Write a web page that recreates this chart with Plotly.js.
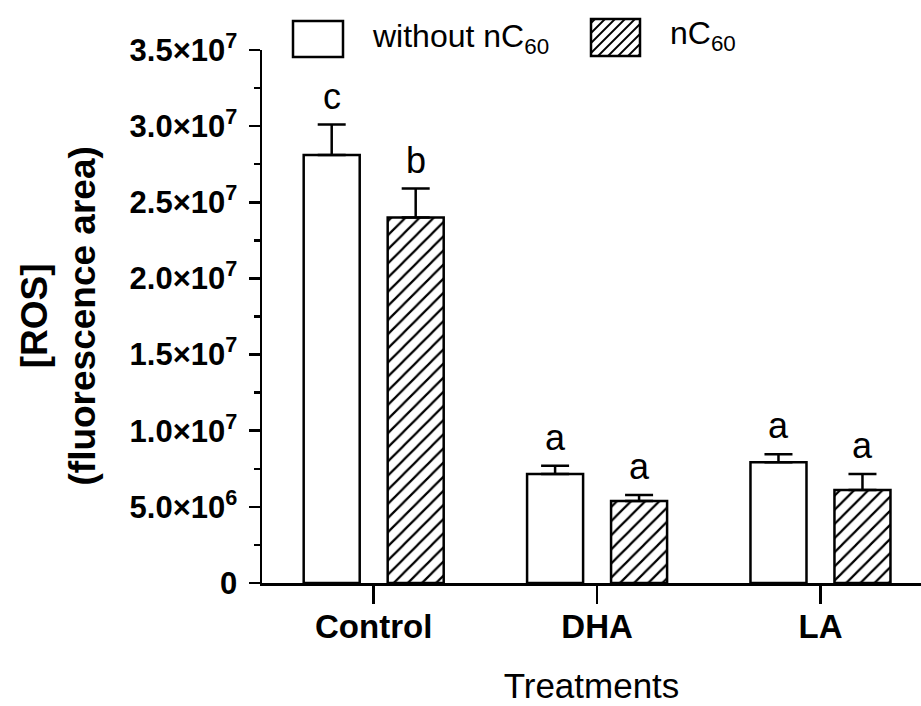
<!DOCTYPE html>
<html>
<head>
<meta charset="utf-8">
<script src="https://cdn.plot.ly/plotly-3.0.1.min.js"></script>
<style>html,body{margin:0;padding:0;background:#fff;}#chart{width:921px;height:706px;}</style>
</head>
<body>
<div id="chart"></div>
<script>
// ---- data ----
const categories = ['Control', 'DHA', 'LA'];
const withoutVals = [2.81e7, 7.15e6, 7.93e6];
const withoutErr = [2.0e6, 0.55e6, 0.52e6];
const nc60Vals = [2.40e7, 5.38e6, 6.10e6];
const nc60Err = [1.9e6, 0.40e6, 1.05e6];
const lettersWithout = ['c', 'a', 'a'];
const lettersNC60 = ['b', 'a', 'a'];
const yTickVals = [0, 5e6, 1e7, 1.5e7, 2e7, 2.5e7, 3e7, 3.5e7];
const yTickText = ['0', '5.0×10<sup>6</sup>', '1.0×10<sup>7</sup>', '1.5×10<sup>7</sup>',
  '2.0×10<sup>7</sup>', '2.5×10<sup>7</sup>', '3.0×10<sup>7</sup>', '3.5×10<sup>7</sup>'];
const seriesNames = ['without nC<sub>60</sub>', 'nC<sub>60</sub>'];
const xTitle = 'Treatments';
const yTitle = '[ROS]<br>(fluorescence area)';

// ---- layout geometry ----
const W = 921, H = 706;
const M = {l: 262, r: 0, t: 50, b: 123};
const BARGAP = 0.248, BARGROUPGAP = 0.333;
const FONT = '"Liberation Sans", Arial, Helvetica, sans-serif';
const plotW = W - M.l - M.r, plotH = H - M.t - M.b;
const px2paperX = px => (px - M.l) / plotW;
const px2paperY = py => (H - M.b - py) / plotH;

const errStyle = {type: 'data', symmetric: false, color: '#000', thickness: 2.5, width: 14};

const traces = [
  {
    type: 'bar', name: seriesNames[0], x: categories, y: withoutVals,
    marker: {color: '#fff', line: {color: '#000', width: 2.5}},
    error_y: Object.assign({array: withoutErr, arrayminus: withoutErr.map(() => 0)}, errStyle),
    showlegend: false
  },
  {
    type: 'bar', name: seriesNames[1], x: categories, y: nc60Vals,
    marker: {color: '#fff', line: {color: '#000', width: 2.5},
      pattern: {shape: '/', fgcolor: '#000', bgcolor: '#fff', size: 10, solidity: 0.22, fillmode: 'replace'}},
    error_y: Object.assign({array: nc60Err, arrayminus: nc60Err.map(() => 0)}, errStyle),
    showlegend: false
  }
];

// significance letters above error bars
const slot = (1 - BARGAP) / 2;
const off = slot / 2;
const annotations = [];
categories.forEach((c, i) => {
  annotations.push({x: i - off, y: withoutVals[i] + withoutErr[i], xref: 'x', yref: 'y',
    text: lettersWithout[i], showarrow: false, yanchor: 'bottom', yshift: 6,
    font: {family: FONT, size: 36, color: '#000'}});
  annotations.push({x: i + off, y: nc60Vals[i] + nc60Err[i], xref: 'x', yref: 'y',
    text: lettersNC60[i], showarrow: false, yanchor: 'bottom', yshift: 6,
    font: {family: FONT, size: 36, color: '#000'}});
});

// y-axis title (two bold lines, rotated)
annotations.push({xref: 'paper', yref: 'paper', x: px2paperX(58), y: 0.5,
  xanchor: 'center', yanchor: 'middle', textangle: -90, showarrow: false,
  text: yTitle, font: {family: FONT, size: 37, weight: 'bold', color: '#000'}});

// custom legend (large swatches like the original)
const legBoxes = [{x0: 293, x1: 343, y0: 21, y1: 57, hatch: false, tx: 370, ty: 38},
                  {x0: 591, x1: 640, y0: 19, y1: 56, hatch: true, tx: 668, ty: 36}];
const shapes = [];
legBoxes.forEach((b, i) => {
  shapes.push({type: 'rect', xref: 'paper', yref: 'paper',
    x0: px2paperX(b.x0), x1: px2paperX(b.x1), y0: px2paperY(b.y1), y1: px2paperY(b.y0),
    line: {color: '#000', width: 2.5}, fillcolor: '#fff'});
  if (b.hatch) {
    let d = '';
    const w = b.x1 - b.x0, h = b.y1 - b.y0, step = 10;
    for (let k = -h + 4; k < w; k += step) {
      let xa = b.x0 + k, ya = b.y1, xb = b.x0 + k + h, yb = b.y0;
      if (xa < b.x0) { ya -= (b.x0 - xa); xa = b.x0; }
      if (xb > b.x1) { yb += (xb - b.x1); xb = b.x1; }
      d += 'M' + px2paperX(xa) + ',' + px2paperY(ya) + 'L' + px2paperX(xb) + ',' + px2paperY(yb);
    }
    shapes.push({type: 'path', xref: 'paper', yref: 'paper', path: d, line: {color: '#000', width: 1.8}});
  }
  annotations.push({xref: 'paper', yref: 'paper', x: px2paperX(b.tx), y: px2paperY(b.ty),
    xanchor: 'left', yanchor: 'middle', showarrow: false, text: seriesNames[i],
    font: {family: FONT, size: 32, color: '#000'}});
});

const layout = {
  width: W, height: H,
  margin: M,
  paper_bgcolor: '#fff', plot_bgcolor: '#fff',
  barmode: 'group', bargap: BARGAP, bargroupgap: BARGROUPGAP,
  showlegend: false,
  font: {family: FONT, color: '#000'},
  xaxis: {
    type: 'category', range: [-0.5, 2.45], fixedrange: true, automargin: false,
    showline: true, linecolor: '#000', linewidth: 2.5,
    ticks: 'outside', ticklen: 18, tickwidth: 2.5, tickcolor: '#000', ticklabelstandoff: -5,
    showgrid: false, zeroline: false,
    tickfont: {family: FONT, size: 33, weight: 'bold', color: '#000'},
    title: {text: xTitle, font: {family: FONT, size: 35, color: '#000'}, standoff: 30}
  },
  yaxis: {
    range: [0, 3.5e7], fixedrange: true, automargin: false,
    showline: true, linecolor: '#000', linewidth: 2.5,
    ticks: 'outside', ticklen: 11, tickwidth: 2.5, tickcolor: '#000', ticklabelstandoff: 5,
    tickmode: 'array', tickvals: yTickVals, ticktext: yTickText,
    minor: {tickmode: 'linear', tick0: 0, dtick: 2.5e6, ticks: 'outside', ticklen: 6, tickwidth: 2.5, tickcolor: '#000', showgrid: false},
    showgrid: false, zeroline: false,
    tickfont: {family: FONT, size: 31, weight: 'bold', color: '#000'}
  },
  shapes: shapes,
  annotations: annotations
};

Plotly.newPlot('chart', traces, layout, {displayModeBar: false, staticPlot: true});
</script>
</body>
</html>
